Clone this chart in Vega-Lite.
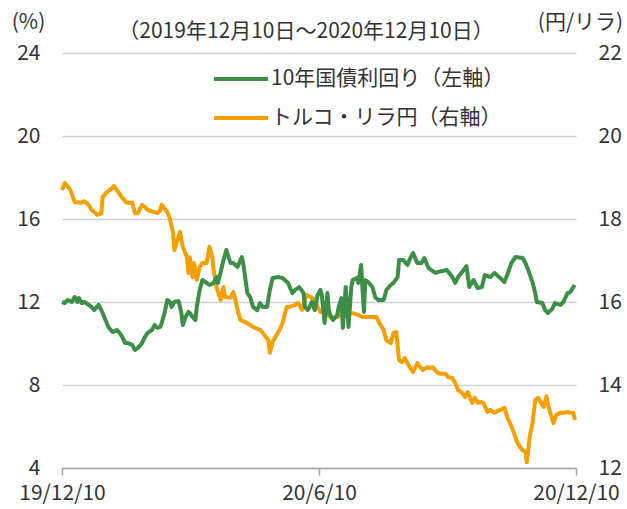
{
  "$schema": "https://vega.github.io/schema/vega-lite/v6.json",
  "width": 514,
  "height": 415,
  "autosize": "none",
  "padding": {"left": 62, "top": 53, "right": 51, "bottom": 41},
  "config": {
    "view": {"stroke": null},
    "font": "Noto Sans CJK JP",
    "axis": {"labelColor": "#333333", "titleColor": "#333333", "labelFontSize": 21, "titleFontSize": 21, "titleFontWeight": "normal"}
  },
  "title": {"text": "（2019年12月10日～2020年12月10日）", "frame": "group", "fontSize": 21, "fontWeight": "normal", "color": "#333333", "anchor": "middle", "offset": -31, "dx": -13},
  "datasets": {
    "lira": [
      {"date": "2019-12-10", "value": 18.70}, {"date": "2019-12-12", "value": 18.87}, {"date": "2019-12-16", "value": 18.70},
      {"date": "2019-12-19", "value": 18.41}, {"date": "2019-12-23", "value": 18.39}, {"date": "2019-12-26", "value": 18.43},
      {"date": "2019-12-29", "value": 18.34}, {"date": "2019-12-31", "value": 18.22}, {"date": "2020-01-04", "value": 18.10},
      {"date": "2020-01-07", "value": 18.14}, {"date": "2020-01-08", "value": 18.53}, {"date": "2020-01-11", "value": 18.65},
      {"date": "2020-01-15", "value": 18.75}, {"date": "2020-01-16", "value": 18.80}, {"date": "2020-01-19", "value": 18.65},
      {"date": "2020-01-22", "value": 18.51}, {"date": "2020-01-25", "value": 18.39}, {"date": "2020-01-29", "value": 18.39},
      {"date": "2020-01-31", "value": 18.14}, {"date": "2020-02-02", "value": 18.14}, {"date": "2020-02-05", "value": 18.34},
      {"date": "2020-02-07", "value": 18.29}, {"date": "2020-02-09", "value": 18.22}, {"date": "2020-02-13", "value": 18.17},
      {"date": "2020-02-16", "value": 18.14}, {"date": "2020-02-18", "value": 18.22}, {"date": "2020-02-19", "value": 18.34},
      {"date": "2020-02-23", "value": 18.17}, {"date": "2020-02-25", "value": 17.98}, {"date": "2020-02-27", "value": 17.69},
      {"date": "2020-02-28", "value": 17.25}, {"date": "2020-03-03", "value": 17.69}, {"date": "2020-03-05", "value": 17.33},
      {"date": "2020-03-08", "value": 17.08}, {"date": "2020-03-09", "value": 16.70}, {"date": "2020-03-10", "value": 17.08},
      {"date": "2020-03-12", "value": 16.60}, {"date": "2020-03-13", "value": 16.94}, {"date": "2020-03-15", "value": 16.53},
      {"date": "2020-03-17", "value": 16.84}, {"date": "2020-03-19", "value": 16.94}, {"date": "2020-03-22", "value": 16.94},
      {"date": "2020-03-24", "value": 17.33}, {"date": "2020-03-26", "value": 17.08}, {"date": "2020-03-27", "value": 16.77},
      {"date": "2020-03-29", "value": 16.36}, {"date": "2020-04-01", "value": 16.05}, {"date": "2020-04-03", "value": 16.36},
      {"date": "2020-04-04", "value": 16.12}, {"date": "2020-04-08", "value": 16.10}, {"date": "2020-04-10", "value": 16.24},
      {"date": "2020-04-11", "value": 16.12}, {"date": "2020-04-13", "value": 15.81}, {"date": "2020-04-15", "value": 15.57},
      {"date": "2020-04-20", "value": 15.49}, {"date": "2020-04-24", "value": 15.40}, {"date": "2020-04-29", "value": 15.33},
      {"date": "2020-05-01", "value": 15.25}, {"date": "2020-05-05", "value": 15.08}, {"date": "2020-05-06", "value": 14.77},
      {"date": "2020-05-08", "value": 15.04}, {"date": "2020-05-13", "value": 15.33}, {"date": "2020-05-15", "value": 15.49},
      {"date": "2020-05-18", "value": 15.88}, {"date": "2020-05-20", "value": 15.88}, {"date": "2020-05-24", "value": 15.93},
      {"date": "2020-05-26", "value": 15.98}, {"date": "2020-05-29", "value": 15.81}, {"date": "2020-06-01", "value": 16.17},
      {"date": "2020-06-04", "value": 16.12}, {"date": "2020-06-07", "value": 16.05}, {"date": "2020-06-09", "value": 15.88},
      {"date": "2020-06-11", "value": 15.76}, {"date": "2020-06-13", "value": 15.81}, {"date": "2020-06-16", "value": 15.69},
      {"date": "2020-06-19", "value": 15.61}, {"date": "2020-06-23", "value": 15.64}, {"date": "2020-06-26", "value": 15.69},
      {"date": "2020-06-30", "value": 15.73}, {"date": "2020-07-04", "value": 15.73}, {"date": "2020-07-08", "value": 15.69},
      {"date": "2020-07-11", "value": 15.64}, {"date": "2020-07-14", "value": 15.64}, {"date": "2020-07-18", "value": 15.64},
      {"date": "2020-07-21", "value": 15.64}, {"date": "2020-07-23", "value": 15.49}, {"date": "2020-07-26", "value": 15.33},
      {"date": "2020-07-28", "value": 15.08}, {"date": "2020-07-31", "value": 15.01}, {"date": "2020-08-02", "value": 15.25},
      {"date": "2020-08-04", "value": 15.28}, {"date": "2020-08-06", "value": 14.60}, {"date": "2020-08-08", "value": 14.55},
      {"date": "2020-08-10", "value": 14.65}, {"date": "2020-08-12", "value": 14.53}, {"date": "2020-08-14", "value": 14.41},
      {"date": "2020-08-16", "value": 14.31}, {"date": "2020-08-19", "value": 14.53}, {"date": "2020-08-21", "value": 14.43},
      {"date": "2020-08-23", "value": 14.36}, {"date": "2020-08-26", "value": 14.43}, {"date": "2020-08-28", "value": 14.41},
      {"date": "2020-08-30", "value": 14.43}, {"date": "2020-09-02", "value": 14.31}, {"date": "2020-09-04", "value": 14.27},
      {"date": "2020-09-08", "value": 14.27}, {"date": "2020-09-10", "value": 14.19}, {"date": "2020-09-13", "value": 14.17},
      {"date": "2020-09-15", "value": 14.05}, {"date": "2020-09-17", "value": 13.88}, {"date": "2020-09-20", "value": 13.81},
      {"date": "2020-09-22", "value": 13.71}, {"date": "2020-09-24", "value": 13.83}, {"date": "2020-09-27", "value": 13.57},
      {"date": "2020-09-29", "value": 13.69}, {"date": "2020-10-01", "value": 13.57}, {"date": "2020-10-03", "value": 13.59},
      {"date": "2020-10-05", "value": 13.57}, {"date": "2020-10-08", "value": 13.35}, {"date": "2020-10-10", "value": 13.40},
      {"date": "2020-10-13", "value": 13.33}, {"date": "2020-10-17", "value": 13.40}, {"date": "2020-10-20", "value": 13.45},
      {"date": "2020-10-22", "value": 13.23}, {"date": "2020-10-24", "value": 13.08}, {"date": "2020-10-26", "value": 12.92},
      {"date": "2020-10-29", "value": 12.63}, {"date": "2020-10-31", "value": 12.51}, {"date": "2020-11-02", "value": 12.43},
      {"date": "2020-11-04", "value": 12.39}, {"date": "2020-11-05", "value": 12.14}, {"date": "2020-11-07", "value": 12.75},
      {"date": "2020-11-09", "value": 13.08}, {"date": "2020-11-11", "value": 13.64}, {"date": "2020-11-13", "value": 13.69},
      {"date": "2020-11-17", "value": 13.47}, {"date": "2020-11-19", "value": 13.73}, {"date": "2020-11-20", "value": 13.52},
      {"date": "2020-11-24", "value": 13.08}, {"date": "2020-11-26", "value": 13.28}, {"date": "2020-11-29", "value": 13.33},
      {"date": "2020-12-01", "value": 13.33}, {"date": "2020-12-04", "value": 13.35}, {"date": "2020-12-06", "value": 13.33},
      {"date": "2020-12-08", "value": 13.33}, {"date": "2020-12-09", "value": 13.20}, {"date": "2020-12-10", "value": 13.22}
    ],
    "yield": [
      {"date": "2019-12-10", "value": 12.00}, {"date": "2019-12-12", "value": 11.95}, {"date": "2019-12-14", "value": 12.10},
      {"date": "2019-12-17", "value": 12.00}, {"date": "2019-12-19", "value": 12.24}, {"date": "2019-12-21", "value": 12.00},
      {"date": "2019-12-22", "value": 12.19}, {"date": "2019-12-24", "value": 11.95}, {"date": "2019-12-26", "value": 12.00},
      {"date": "2019-12-29", "value": 11.86}, {"date": "2019-12-31", "value": 11.76}, {"date": "2020-01-02", "value": 11.61},
      {"date": "2020-01-05", "value": 11.86}, {"date": "2020-01-07", "value": 11.61}, {"date": "2020-01-10", "value": 11.13},
      {"date": "2020-01-12", "value": 10.80}, {"date": "2020-01-15", "value": 10.55}, {"date": "2020-01-18", "value": 10.65},
      {"date": "2020-01-20", "value": 10.51}, {"date": "2020-01-22", "value": 10.31}, {"date": "2020-01-24", "value": 10.02},
      {"date": "2020-01-26", "value": 10.02}, {"date": "2020-01-29", "value": 9.93}, {"date": "2020-01-31", "value": 9.69},
      {"date": "2020-02-02", "value": 9.78}, {"date": "2020-02-05", "value": 10.02}, {"date": "2020-02-07", "value": 10.31},
      {"date": "2020-02-09", "value": 10.51}, {"date": "2020-02-12", "value": 10.65}, {"date": "2020-02-14", "value": 10.89},
      {"date": "2020-02-16", "value": 10.75}, {"date": "2020-02-18", "value": 10.80}, {"date": "2020-02-19", "value": 10.99},
      {"date": "2020-02-21", "value": 11.47}, {"date": "2020-02-23", "value": 12.10}, {"date": "2020-02-25", "value": 12.00},
      {"date": "2020-02-26", "value": 11.76}, {"date": "2020-02-28", "value": 12.00}, {"date": "2020-03-02", "value": 12.05},
      {"date": "2020-03-04", "value": 11.47}, {"date": "2020-03-05", "value": 10.89}, {"date": "2020-03-07", "value": 11.28},
      {"date": "2020-03-09", "value": 11.52}, {"date": "2020-03-10", "value": 11.47}, {"date": "2020-03-12", "value": 11.28},
      {"date": "2020-03-14", "value": 11.13}, {"date": "2020-03-15", "value": 11.76}, {"date": "2020-03-17", "value": 12.58},
      {"date": "2020-03-19", "value": 13.06}, {"date": "2020-03-22", "value": 12.92}, {"date": "2020-03-24", "value": 12.82},
      {"date": "2020-03-27", "value": 12.92}, {"date": "2020-03-29", "value": 13.20}, {"date": "2020-03-30", "value": 12.92},
      {"date": "2020-04-01", "value": 13.45}, {"date": "2020-04-03", "value": 14.02}, {"date": "2020-04-04", "value": 14.27},
      {"date": "2020-04-05", "value": 14.51}, {"date": "2020-04-08", "value": 13.88}, {"date": "2020-04-10", "value": 13.88},
      {"date": "2020-04-13", "value": 13.69}, {"date": "2020-04-16", "value": 14.17}, {"date": "2020-04-17", "value": 13.88},
      {"date": "2020-04-20", "value": 12.43}, {"date": "2020-04-22", "value": 12.24}, {"date": "2020-04-24", "value": 11.76},
      {"date": "2020-04-27", "value": 11.61}, {"date": "2020-04-29", "value": 11.95}, {"date": "2020-05-01", "value": 11.76},
      {"date": "2020-05-04", "value": 11.76}, {"date": "2020-05-06", "value": 12.58}, {"date": "2020-05-08", "value": 13.16},
      {"date": "2020-05-12", "value": 13.20}, {"date": "2020-05-15", "value": 13.16}, {"date": "2020-05-19", "value": 12.92},
      {"date": "2020-05-22", "value": 12.43}, {"date": "2020-05-24", "value": 12.58}, {"date": "2020-05-27", "value": 12.72},
      {"date": "2020-05-30", "value": 12.43}, {"date": "2020-05-31", "value": 11.76}, {"date": "2020-06-02", "value": 11.61},
      {"date": "2020-06-05", "value": 12.00}, {"date": "2020-06-07", "value": 11.61}, {"date": "2020-06-09", "value": 12.34},
      {"date": "2020-06-11", "value": 12.58}, {"date": "2020-06-12", "value": 12.34}, {"date": "2020-06-14", "value": 10.99},
      {"date": "2020-06-16", "value": 12.43}, {"date": "2020-06-17", "value": 11.61}, {"date": "2020-06-18", "value": 11.37},
      {"date": "2020-06-20", "value": 11.13}, {"date": "2020-06-23", "value": 11.37}, {"date": "2020-06-24", "value": 11.76},
      {"date": "2020-06-26", "value": 12.19}, {"date": "2020-06-27", "value": 10.75}, {"date": "2020-06-29", "value": 12.72},
      {"date": "2020-07-01", "value": 10.80}, {"date": "2020-07-03", "value": 12.72}, {"date": "2020-07-04", "value": 13.06},
      {"date": "2020-07-07", "value": 13.16}, {"date": "2020-07-08", "value": 12.92}, {"date": "2020-07-10", "value": 13.78},
      {"date": "2020-07-11", "value": 12.58}, {"date": "2020-07-12", "value": 11.52}, {"date": "2020-07-13", "value": 13.06},
      {"date": "2020-07-15", "value": 12.96}, {"date": "2020-07-18", "value": 12.72}, {"date": "2020-07-20", "value": 12.24},
      {"date": "2020-07-22", "value": 12.10}, {"date": "2020-07-26", "value": 12.10}, {"date": "2020-07-28", "value": 12.58},
      {"date": "2020-07-31", "value": 12.82}, {"date": "2020-08-02", "value": 12.92}, {"date": "2020-08-05", "value": 13.20},
      {"date": "2020-08-06", "value": 14.02}, {"date": "2020-08-09", "value": 14.02}, {"date": "2020-08-12", "value": 13.78},
      {"date": "2020-08-14", "value": 14.12}, {"date": "2020-08-16", "value": 14.36}, {"date": "2020-08-19", "value": 13.88},
      {"date": "2020-08-22", "value": 13.88}, {"date": "2020-08-24", "value": 14.12}, {"date": "2020-08-27", "value": 13.64},
      {"date": "2020-08-29", "value": 13.54}, {"date": "2020-09-01", "value": 13.40}, {"date": "2020-09-03", "value": 13.45},
      {"date": "2020-09-09", "value": 13.54}, {"date": "2020-09-13", "value": 13.20}, {"date": "2020-09-15", "value": 12.92},
      {"date": "2020-09-17", "value": 13.20}, {"date": "2020-09-21", "value": 13.54}, {"date": "2020-09-23", "value": 13.73},
      {"date": "2020-09-25", "value": 12.72}, {"date": "2020-09-28", "value": 13.06}, {"date": "2020-10-01", "value": 12.67},
      {"date": "2020-10-04", "value": 12.72}, {"date": "2020-10-06", "value": 13.30}, {"date": "2020-10-10", "value": 13.20},
      {"date": "2020-10-13", "value": 13.40}, {"date": "2020-10-17", "value": 13.16}, {"date": "2020-10-20", "value": 12.96},
      {"date": "2020-10-22", "value": 13.30}, {"date": "2020-10-25", "value": 13.88}, {"date": "2020-10-28", "value": 14.17},
      {"date": "2020-11-02", "value": 14.12}, {"date": "2020-11-04", "value": 13.88}, {"date": "2020-11-06", "value": 13.54},
      {"date": "2020-11-09", "value": 12.96}, {"date": "2020-11-11", "value": 12.43}, {"date": "2020-11-12", "value": 12.00},
      {"date": "2020-11-16", "value": 11.95}, {"date": "2020-11-18", "value": 11.61}, {"date": "2020-11-20", "value": 11.47},
      {"date": "2020-11-23", "value": 11.66}, {"date": "2020-11-25", "value": 11.95}, {"date": "2020-11-29", "value": 11.86},
      {"date": "2020-12-01", "value": 12.00}, {"date": "2020-12-04", "value": 12.43}, {"date": "2020-12-06", "value": 12.48},
      {"date": "2020-12-09", "value": 12.82}
    ]
  },
  "encoding": {
    "x": {
      "field": "date",
      "type": "temporal",
      "scale": {"type": "utc", "domain": [{"year": 2019, "month": 12, "date": 10, "utc": true}, {"year": 2020, "month": 12, "date": 10, "utc": true}]},
      "axis": {
        "title": null,
        "values": [{"year": 2019, "month": 12, "date": 10, "utc": true}, {"year": 2020, "month": 6, "date": 10, "utc": true}, {"year": 2020, "month": 12, "date": 10, "utc": true}],
        "format": "%y/%-m/%d",
        "labelFlush": false,
        "labelOverlap": false,
        "grid": false,
        "domainColor": "#a6a6a6",
        "domainWidth": 1.5,
        "tickColor": "#a6a6a6",
        "tickWidth": 1.5,
        "tickSize": 7,
        "labelPadding": 7
      }
    },
    "color": {
      "datum": "x",
      "scale": {"domain": ["10年国債利回り（左軸）", "トルコ・リラ円（右軸）"], "range": ["#3d8e46", "#f5a000"]},
      "legend": {
        "orient": "none",
        "legendX": 168,
        "legendY": 15,
        "title": null,
        "padding": 0,
        "symbolType": "M-3,0H3",
        "symbolSize": 324,
        "symbolStrokeWidth": 4,
        "labelFontSize": 21,
        "labelColor": "#333333",
        "labelOffset": 19,
        "labelLimit": 0,
        "rowPadding": 18
      }
    }
  },
  "layer": [
    {
      "data": {"name": "lira"},
      "mark": {"type": "line", "strokeWidth": 4, "strokeJoin": "round"},
      "encoding": {
        "color": {"datum": "トルコ・リラ円（右軸）"},
        "y": {
          "field": "value",
          "type": "quantitative",
          "scale": {"domain": [12, 22], "zero": false, "nice": false},
          "axis": {
            "orient": "right",
            "values": [12, 14, 16, 18, 20, 22],
            "grid": false,
            "domain": false,
            "ticks": false,
            "tickSize": 0,
            "labelPadding": 22,
            "title": "(円/リラ)",
            "titleAngle": 0,
            "titleAlign": "center",
            "titleBaseline": "middle",
            "titleX": 4,
            "titleY": -31
          }
        }
      }
    },
    {
      "data": {"name": "yield"},
      "mark": {"type": "line", "strokeWidth": 4, "strokeJoin": "round"},
      "encoding": {
        "color": {"datum": "10年国債利回り（左軸）"},
        "y": {
          "field": "value",
          "type": "quantitative",
          "scale": {"domain": [4, 24], "zero": false, "nice": false},
          "axis": {
            "orient": "left",
            "values": [4, 8, 12, 16, 20, 24],
            "grid": true,
            "gridColor": "#d0d0d0",
            "gridWidth": 1.5,
            "domain": false,
            "ticks": false,
            "tickSize": 0,
            "labelPadding": 22,
            "title": "(%)",
            "titleAngle": 0,
            "titleAlign": "center",
            "titleBaseline": "middle",
            "titleX": -34,
            "titleY": -31
          }
        }
      }
    }
  ],
  "resolve": {"scale": {"y": "independent"}}
}
